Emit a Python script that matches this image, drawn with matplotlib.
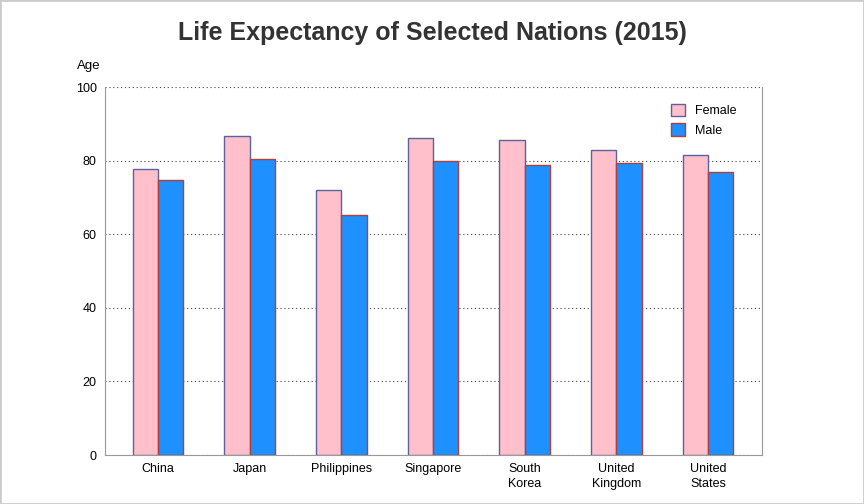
import numpy as np
import matplotlib
matplotlib.use('Agg')
import matplotlib.pyplot as plt
from matplotlib.patches import Rectangle

plt.rcParams['font.family'] = ['Liberation Sans', 'DejaVu Sans']

# Life expectancy data (2015)
countries = ['China', 'Japan', 'Philippines', 'Singapore',
             'South\nKorea', 'United\nKingdom', 'United\nStates']
female = [77.6, 86.8, 72.0, 86.1, 85.5, 83.0, 81.6]
male = [74.6, 80.5, 65.3, 80.0, 78.8, 79.4, 76.9]

fig = plt.figure(figsize=(8.64, 5.04), dpi=100)
ax = fig.add_axes([105 / 864, 49 / 504, 657 / 864, 368 / 504])

x = np.arange(len(countries))
w = 0.278
ax.bar(x - w / 2, female, w, color='#FFC0CB', edgecolor='#5a62a0', linewidth=1, label='Female', zorder=3)
ax.bar(x + w / 2, male, w, color='#1E90FF', edgecolor='#b0403a', linewidth=1, label='Male', zorder=3)

ax.set_xlim(-0.578, 6.589)
ax.set_ylim(0, 100)
ax.set_yticks([0, 20, 40, 60, 80, 100])
ax.set_xticks(x)
ax.set_xticklabels(countries, fontsize=9, linespacing=1.25)
ax.tick_params(axis='both', length=0, labelsize=9, colors='black')
ax.tick_params(axis='y', pad=6)
ax.tick_params(axis='x', pad=6)
ax.yaxis.grid(True, linestyle=(0, (1, 2.5)), color='#444444', linewidth=0.8, zorder=0)

for side in ['left', 'right', 'bottom']:
    ax.spines[side].set_color('#999999')
ax.spines['top'].set_visible(False)

ax.text(-0.024, 1.04, 'Age', transform=ax.transAxes, fontsize=9.5, ha='center', va='bottom')

fig.text(0.5, 0.935, 'Life Expectancy of Selected Nations (2015)', ha='center', va='center',
         fontsize=18, fontweight='bold', color='#333333')

leg = ax.legend(loc='upper right', bbox_to_anchor=(0.979, 0.985), frameon=False, fontsize=9,
                handlelength=1.15, handleheight=1.15, handletextpad=0.8, labelspacing=0.5)

fig.patches.append(Rectangle((0, 0), 1, 1, transform=fig.transFigure, fill=False,
                             edgecolor='#cccccc', linewidth=2))

fig.savefig('out.png', dpi=100)
